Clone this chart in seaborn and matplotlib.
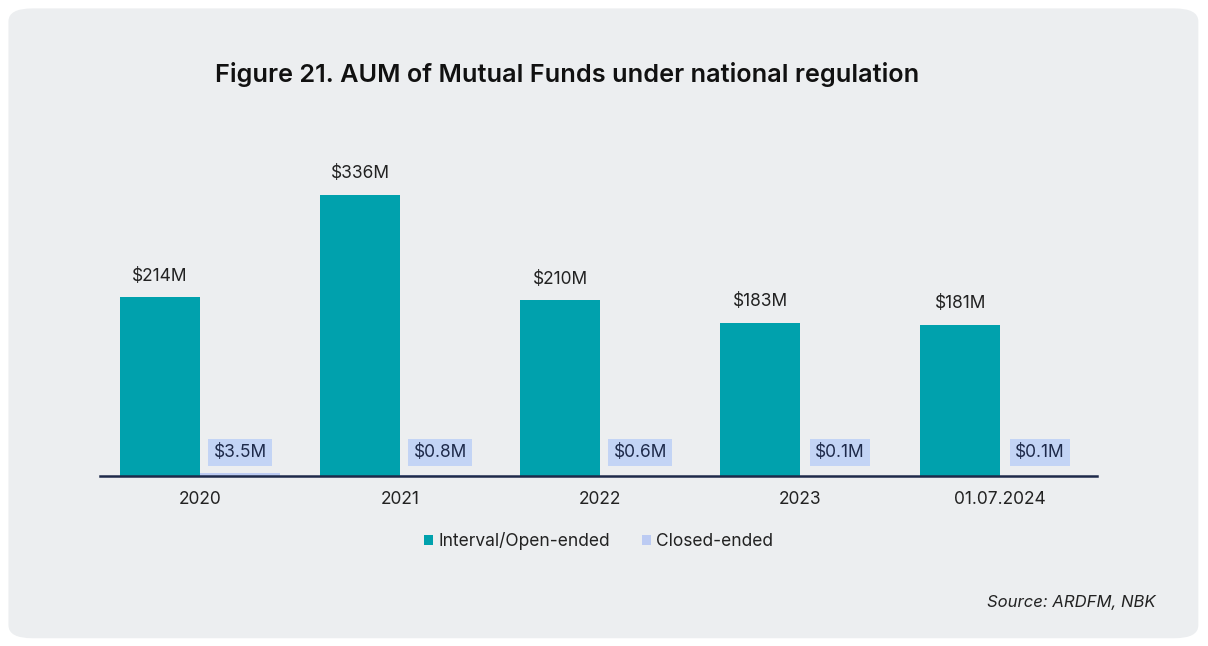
import matplotlib
matplotlib.use("Agg")
import matplotlib.pyplot as plt
from matplotlib.patches import FancyBboxPatch
import seaborn as sns
import pandas as pd

categories = ["2020", "2021", "2022", "2023", "01.07.2024"]
interval_open = [214, 336, 210, 183, 181]
closed_ended = [3.5, 0.8, 0.6, 0.1, 0.1]
series_names = ["Interval/Open-ended", "Closed-ended"]
colors = ["#00a1ad", "#bccbf3"]

df = pd.DataFrame({
    "Period": categories * 2,
    "Type": [series_names[0]] * len(categories) + [series_names[1]] * len(categories),
    "AUM": interval_open + closed_ended,
})

sns.set_theme(style="white")
plt.rcParams["font.family"] = ["Inter", "DejaVu Sans"]

fig = plt.figure(figsize=(12.08, 6.46), dpi=100)
fig.patch.set_facecolor("white")
card = FancyBboxPatch((0.007, 0.012), 0.985, 0.975,
                      boxstyle="round,pad=0,rounding_size=0.02",
                      transform=fig.transFigure, facecolor="#eceef0",
                      edgecolor="none", zorder=-10)
fig.patches.append(card)

ax = fig.add_axes([0.0828, 0.263, 0.8255, 0.505])
ax.set_facecolor("none")
sns.barplot(data=df, x="Period", y="AUM", hue="Type", palette=colors,
            width=0.8, saturation=1, ax=ax, legend=True, linewidth=0)

ax.set_ylim(0, 389.8)
ax.set_xlim(-0.5, 4.485)
for s in ["top", "right", "left"]:
    ax.spines[s].set_visible(False)
ax.spines["bottom"].set_color("#1e2a4a")
ax.spines["bottom"].set_linewidth(1.8)
ax.set_yticks([])
ax.set_xlabel("")
ax.set_ylabel("")
ax.tick_params(axis="x", length=0, pad=11, labelsize=12.5, labelcolor="#222222")

# labels for interval bars
for bar, v in zip(ax.containers[0], interval_open):
    ax.annotate(f"${v:g}M", (bar.get_x() + bar.get_width() / 2, bar.get_height()),
                xytext=(0, 9), textcoords="offset points", ha="center", va="bottom",
                fontsize=12.5, color="#222222")
# labels for closed-ended bars
for bar, v in zip(ax.containers[1], closed_ended):
    ax.annotate(f"${v:g}M", (bar.get_x() + bar.get_width() / 2, 0),
                xytext=(0, 17), textcoords="offset points", ha="center", va="center",
                fontsize=12.5, color="#1e2a4a",
                bbox=dict(boxstyle="square,pad=0.3", facecolor="#c3d4f5", edgecolor="none"))

leg = ax.legend(loc="center", bbox_to_anchor=(0.5, -0.2), ncol=2, frameon=False,
                handlelength=0.55, handleheight=0.55, handletextpad=0.3,
                columnspacing=1.8, fontsize=12.5)
for t in leg.get_texts():
    t.set_color("#222222")

fig.text(0.178, 0.884, "Figure 21. AUM of Mutual Funds under national regulation",
         fontsize=18.2, fontweight="semibold", color="#111111", ha="left", va="center")
fig.text(0.957, 0.067, "Source: ARDFM, NBK", fontsize=12, style="italic",
         color="#222222", ha="right", va="center")

fig.savefig("out.png", dpi=100)
